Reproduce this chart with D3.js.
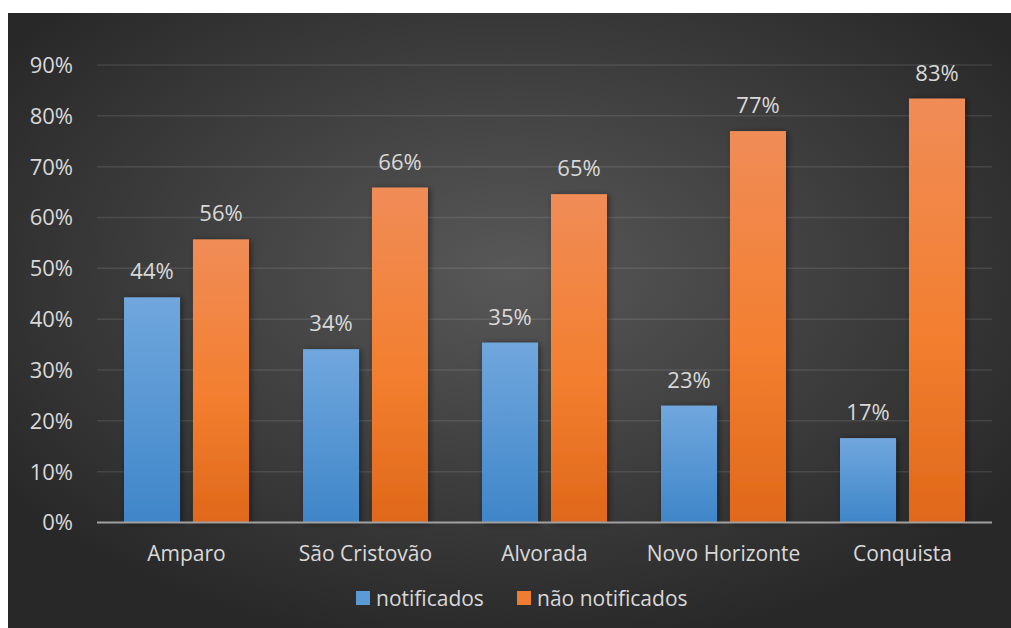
<!DOCTYPE html>
<html><head><meta charset="utf-8">
<script src="https://cdn.jsdelivr.net/npm/d3@7"></script>
<style>
body{margin:0;background:#fff;}
text{font-family:"Open Sans","Noto Sans",sans-serif;fill:#d9d9d9;}
</style></head>
<body><svg id="c" width="1011" height="628"></svg>
<script>
const categories = ["Amparo","São Cristovão","Alvorada","Novo Horizonte","Conquista"];
const seriesNames = ["notificados","não notificados"];
const notificados = [0.443,0.341,0.354,0.230,0.166];
const naoNotificados = [0.557,0.659,0.646,0.770,0.834];
const yTicks = [0,0.1,0.2,0.3,0.4,0.5,0.6,0.7,0.8,0.9];

const svg = d3.select("#c");
const defs = svg.append("defs");
const bg = defs.append("radialGradient").attr("id","bg").attr("cx","50%").attr("cy","42%").attr("r","62%");
bg.append("stop").attr("offset","0%").attr("stop-color","#585858");
bg.append("stop").attr("offset","100%").attr("stop-color","#282828");
const gb = defs.append("linearGradient").attr("id","gBlue").attr("x1",0).attr("y1",0).attr("x2",0).attr("y2",1);
gb.append("stop").attr("offset","0%").attr("stop-color","#70a7dd");
gb.append("stop").attr("offset","100%").attr("stop-color","#3f86c9");
const go = defs.append("linearGradient").attr("id","gOrange").attr("x1",0).attr("y1",0).attr("x2",0).attr("y2",1);
go.append("stop").attr("offset","0%").attr("stop-color","#f08c57");
go.append("stop").attr("offset","55%").attr("stop-color","#f37f30");
go.append("stop").attr("offset","100%").attr("stop-color","#e0681a");
const f = defs.append("filter").attr("id","sh").attr("x","-30%").attr("y","-10%").attr("width","160%").attr("height","120%");
f.append("feDropShadow").attr("dx",2).attr("dy",1).attr("stdDeviation",3).attr("flood-color","#000").attr("flood-opacity",0.45);

svg.append("rect").attr("x",8).attr("y",13).attr("width",1003).attr("height",615).attr("fill","url(#bg)");

const x0 = d3.scaleBand().domain(categories).range([97,992]).padding(0);
const x1 = d3.scaleBand().domain(seriesNames).range([27,152]).paddingInner(0.188).paddingOuter(0);
const y = d3.scaleLinear().domain([0,0.9]).range([522.5,65]);

// gridlines
svg.append("g").selectAll("line").data(yTicks.slice(1)).join("line")
  .attr("x1",97).attr("x2",992).attr("y1",d=>y(d)).attr("y2",d=>y(d))
  .attr("stroke","#fff").attr("stroke-opacity",0.1).attr("stroke-width",1.5);

// y tick labels
svg.append("g").selectAll("text").data(yTicks).join("text")
  .attr("x",73).attr("y",d=>y(d)).attr("dy","0.36em").attr("text-anchor","end")
  .attr("font-size",22).text(d=>d3.format(".0%")(d));

const data = categories.map((c,i)=>({c, vals:[{s:seriesNames[0],v:notificados[i]},{s:seriesNames[1],v:naoNotificados[i]}]}));
const fills = {"notificados":"url(#gBlue)","não notificados":"url(#gOrange)"};

const groups = svg.append("g").selectAll("g").data(data).join("g")
  .attr("transform",d=>`translate(${x0(d.c)},0)`);
groups.selectAll("rect").data(d=>d.vals).join("rect")
  .attr("x",d=>x1(d.s)).attr("width",x1.bandwidth())
  .attr("y",d=>y(d.v)).attr("height",d=>y(0)-y(d.v))
  .attr("fill",d=>fills[d.s]).attr("filter","url(#sh)");
groups.selectAll("text").data(d=>d.vals).join("text")
  .attr("x",d=>x1(d.s)+x1.bandwidth()/2).attr("y",d=>y(d.v)-18)
  .attr("text-anchor","middle").attr("font-size",22)
  .text(d=>d3.format(".0%")(d.v));

// axis line
svg.append("line").attr("x1",97).attr("x2",992).attr("y1",y(0)).attr("y2",y(0))
  .attr("stroke","#a0a0a0").attr("stroke-width",2);

// category labels
svg.append("g").selectAll("text").data(categories).join("text")
  .attr("x",d=>x0(d)+x0.bandwidth()/2).attr("y",561).attr("text-anchor","middle")
  .attr("font-size",21).text(d=>d);

// legend
const legColors = {"notificados":"#5b9bd5","não notificados":"#ed7d31"};
const legX = [356,517];
const leg = svg.append("g").selectAll("g").data(seriesNames).join("g")
  .attr("transform",(d,i)=>`translate(${legX[i]},591)`);
leg.append("rect").attr("width",14).attr("height",14).attr("fill",d=>legColors[d]);
leg.append("text").attr("x",20).attr("y",14.5).attr("font-size",21).text(d=>d);
</script></body></html>
